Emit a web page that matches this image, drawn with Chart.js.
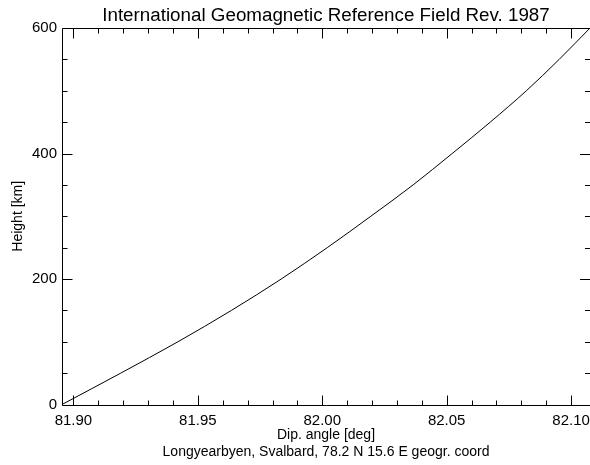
<!DOCTYPE html>
<html>
<head>
<meta charset="utf-8">
<script src="https://cdn.jsdelivr.net/npm/chart.js@4/dist/chart.umd.min.js"></script>
<style>
  html, body { margin: 0; padding: 0; background: #fff; }
  #wrap { width: 590px; height: 465px; position: relative; }
</style>
</head>
<body>
<div id="wrap"><canvas id="c" width="590" height="465"></canvas></div>
<script>
// ---- data ----
const heightsKm = [0, 50, 100, 150, 200, 250, 300, 350, 400, 450, 500, 550, 600];
const dipAngles = [81.8954, 81.9190, 81.9420, 81.9635, 81.9835, 82.0020, 82.0195,
                   82.0365, 82.0522, 82.0675, 82.0820, 82.0952, 82.1076];
const xMajorTicks = [81.90, 81.95, 82.00, 82.05, 82.10];
const xMinorTicks = [81.90, 81.91, 81.92, 81.93, 81.94, 81.95, 81.96, 81.97, 81.98, 81.99,
                     82.00, 82.01, 82.02, 82.03, 82.04, 82.05, 82.06, 82.07, 82.08, 82.09, 82.10];
const yMajorTicks = [0, 200, 400, 600];
const yMinorTicks = [0, 50, 100, 150, 200, 250, 300, 350, 400, 450, 500, 550, 600];
const titleText = 'International Geomagnetic Reference Field Rev. 1987';
const xTitle = ['Dip. angle [deg]', 'Longyearbyen, Svalbard, 78.2 N 15.6 E geogr. coord'];
const yTitle = 'Height [km]';

const points = heightsKm.map((h, i) => ({ x: dipAngles[i], y: h }));
const FONT = 'Liberation Sans, Arial, Helvetica, sans-serif';

const idlFrame = {
  id: 'idlFrame',
  afterDraw(chart) {
    const { ctx, chartArea: a, scales: { x, y } } = chart;
    const L = Math.round(a.left) + 0.5, T = Math.round(a.top) + 0.5;
    const B = Math.round(a.bottom) + 0.5, R = a.right;
    ctx.save();
    ctx.strokeStyle = '#000';
    ctx.lineWidth = 1;
    ctx.beginPath();
    ctx.moveTo(R, T); ctx.lineTo(L, T); ctx.lineTo(L, B); ctx.lineTo(R, B);
    const minor = 5, major = 10;
    xMinorTicks.forEach(v => {
      const px = Math.round(x.getPixelForValue(v)) + 0.5;
      const len = xMajorTicks.some(m => Math.abs(m - v) < 1e-9) ? major : minor;
      ctx.moveTo(px, B); ctx.lineTo(px, B - len);
      ctx.moveTo(px, T); ctx.lineTo(px, T + len);
    });
    yMinorTicks.forEach(v => {
      const py = Math.round(y.getPixelForValue(v)) + 0.5;
      const len = yMajorTicks.includes(v) ? major : minor;
      ctx.moveTo(L, py); ctx.lineTo(L + len, py);
      ctx.moveTo(R, py); ctx.lineTo(R - len, py);
    });
    ctx.stroke();
    ctx.restore();
  }
};

new Chart(document.getElementById('c'), {
  type: 'scatter',
  data: {
    datasets: [{
      data: points,
      showLine: true,
      borderColor: '#000',
      borderWidth: 1,
      pointRadius: 0,
      cubicInterpolationMode: 'monotone',
      fill: false
    }]
  },
  options: {
    responsive: false,
    animation: false,
    layout: { padding: { left: 0, right: 0, top: 0, bottom: 0 } },
    plugins: {
      legend: { display: false },
      tooltip: { enabled: false },
      title: {
        display: true,
        fullSize: false,
        text: titleText,
        color: '#000',
        font: { family: FONT, size: 18.8, weight: 'normal', lineHeight: 1.2 },
        padding: { top: 5, bottom: 0.5 }
      }
    },
    scales: {
      x: {
        type: 'linear',
        min: dipAngles[0],
        max: dipAngles[dipAngles.length - 1],
        afterBuildTicks(scale) { scale.ticks = xMajorTicks.map(v => ({ value: v })); },
        afterFit(scale) { scale.height = 60.5; scale.paddingLeft = 0; scale.paddingRight = 0; },
        grid: { display: false, drawTicks: false },
        border: { display: false },
        ticks: {
          color: '#000', padding: 7, maxRotation: 0, autoSkip: false,
          font: { family: FONT, size: 15 },
          callback: v => Number(v).toFixed(2)
        },
        title: {
          display: true, text: xTitle, color: '#000',
          font: { family: FONT, size: 14, lineHeight: 1.18 },
          padding: { top: 0, bottom: 5 }
        }
      },
      y: {
        type: 'linear',
        min: 0, max: 600,
        afterBuildTicks(scale) { scale.ticks = yMajorTicks.map(v => ({ value: v })); },
        afterFit(scale) { scale.width = 62; scale.paddingTop = 0; scale.paddingBottom = 0; },
        grid: { display: false, drawTicks: false },
        border: { display: false },
        ticks: {
          color: '#000', padding: 5, autoSkip: false,
          font: { family: FONT, size: 15 },
          callback: v => String(v)
        },
        title: {
          display: true, text: yTitle, color: '#000',
          font: { family: FONT, size: 14, lineHeight: 1.2 },
          padding: { top: 9.6, bottom: 0 }
        }
      }
    }
  },
  plugins: [idlFrame]
});
</script>
</body>
</html>
